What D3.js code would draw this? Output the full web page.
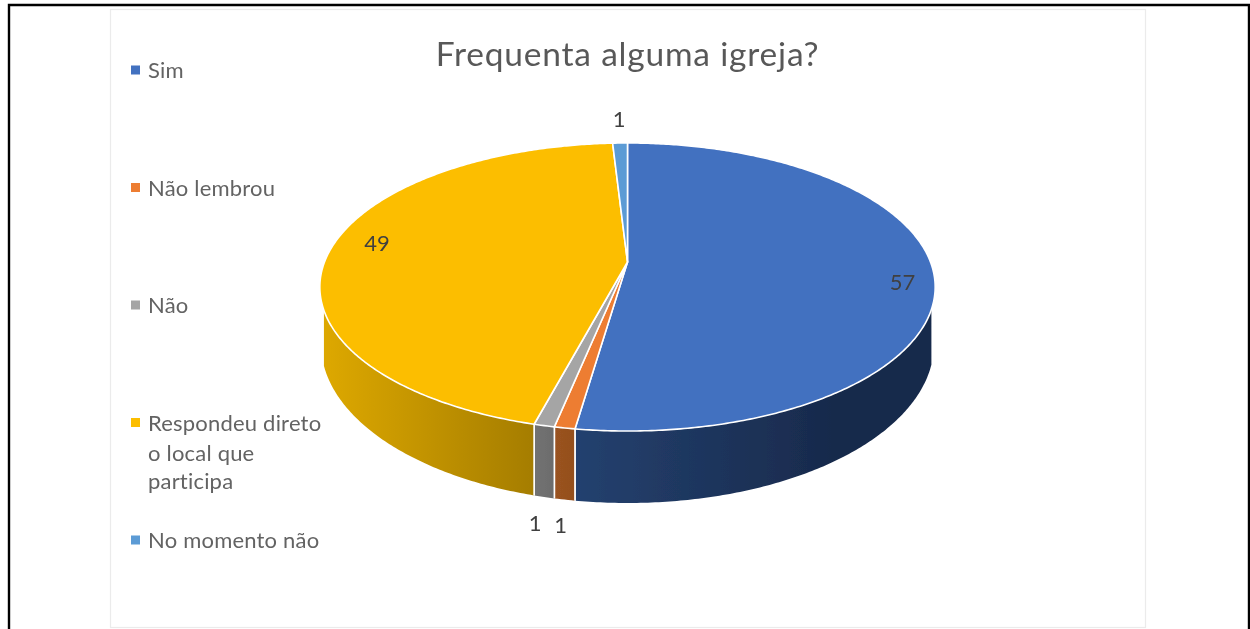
<!DOCTYPE html>
<html><head><meta charset="utf-8">
<script src="https://cdn.jsdelivr.net/npm/d3@7/dist/d3.min.js"></script>
<style>html,body{margin:0;padding:0;background:#fff;overflow:hidden}svg{display:block}text{font-family:Lato,"Noto Sans",sans-serif}</style>
</head><body><svg id="c" width="1250" height="629"></svg>
<script>
const title = "Frequenta alguma igreja?";
const categories = ["Sim","Não lembrou","Não","Respondeu direto o local que participa","No momento não"];
const legendLines = [["Sim"],["Não lembrou"],["Não"],["Respondeu direto","o local que","participa"],["No momento não"]];
const values = [57,1,1,49,1];
const topColors = ["#4371C0","#ED7D31","#A5A5A5","#FCBE00","#5B9BD5"];
const wallFrom = ["#24416F","#9A5220","#727272","#DDA800","#2A4A7E"];
const wallTo = ["#182A4C","#94501E","#6C6C6C","#A57D00","#2A4A7E"];

const svg = d3.select("#c");
const defs = svg.append("defs");
defs.append("filter").attr("id","soft").attr("x","-5%").attr("y","-5%").attr("width","110%").attr("height","110%")
  .append("feGaussianBlur").attr("stdDeviation",0.5);
const root = svg.append("g").attr("filter","url(#soft)");

// frame and card
root.append("rect").attr("x",110.5).attr("y",9.5).attr("width",1035).attr("height",618).attr("fill","#fff").attr("stroke","#ebebeb").attr("stroke-width",1.2);
root.append("path").attr("d","M9 640V5H1249V640").attr("fill","none").attr("stroke","#000").attr("stroke-width",2.4);

// perspective disc
const cx=627.5, k=-0.1736, a=94.2, b=262, c=303;
const proj=(t,r=1)=>{const u=r*Math.sin(t),v=-r*Math.cos(t),w=1+k*v;return [cx+c*u/w,(a*v+b)/w];};
const rimX=306.5, rimCy=344, rimRy=159, wallTop=309;
const rimBottom=p=>{const dx=Math.max(-rimX,Math.min(rimX,p[0]-cx));return [cx+dx,rimCy+rimRy*Math.sqrt(1-(dx/rimX)**2)];};

const arcs=d3.pie().value(d=>d).sort(null)(values);
const samples=(s,e)=>{const n=Math.max(2,Math.ceil((e-s)/0.01));return d3.range(n+1).map(i=>s+(e-s)*i/n);};
const line=d3.line();

// side walls
const walls=root.append("g");
arcs.forEach((d,i)=>{
  const top=samples(d.startAngle,d.endAngle).map(t=>proj(t)).filter(p=>p[1]>=wallTop);
  if(top.length<2) return;
  const bottom=top.map(rimBottom).reverse();
  const x0=d3.min(top,p=>p[0]),x1=d3.max(top,p=>p[0]);
  const id="w"+i;
  const g=defs.append("linearGradient").attr("id",id).attr("gradientUnits","userSpaceOnUse").attr("x1",x0).attr("x2",x1).attr("y1",0).attr("y2",0);
  g.append("stop").attr("offset",0).attr("stop-color",wallFrom[i]);
  g.append("stop").attr("offset",i===0?0.72:1).attr("stop-color",wallTo[i]);
  walls.append("path").attr("d",line(top.concat(bottom))+"Z").attr("fill",`url(#${id})`);
  // white seams between front walls
  [top[0],top[top.length-1]].forEach(p=>{
    if(p[1]<400) return;
    const q=rimBottom(p);
    walls.append("line").attr("x1",p[0]).attr("y1",p[1]).attr("x2",q[0]).attr("y2",q[1]).attr("stroke","#fff").attr("stroke-width",1.6);
  });
});

// top faces
const apex=proj(0,0);
root.append("g").selectAll("path").data(arcs).join("path")
  .attr("d",d=>line([apex,...samples(d.startAngle,d.endAngle).map(t=>proj(t))])+"Z")
  .attr("fill",(d,i)=>topColors[i]).attr("stroke","#fff").attr("stroke-width",1.6).attr("stroke-linejoin","round");

// data labels, placed relative to each slice's mid-angle
const placement=[{r:.9,dx:0,dy:10},{r:1,dx:-4,dy:97},{r:1,dx:-9,dy:97},{r:.85,dx:2,dy:-8},{r:1,dx:-1,dy:-25}];
root.append("g").selectAll("text").data(arcs).join("text")
  .attr("x",(d,i)=>proj((d.startAngle+d.endAngle)/2,placement[i].r)[0]+placement[i].dx)
  .attr("y",(d,i)=>proj((d.startAngle+d.endAngle)/2,placement[i].r)[1]+placement[i].dy)
  .attr("text-anchor","middle").attr("dominant-baseline","central")
  .attr("font-size",22).attr("fill","#404040").text(d=>d.data);

// title
root.append("text").attr("x",627.5).attr("y",66).attr("text-anchor","middle")
  .attr("font-size",33.5).attr("letter-spacing",0.8).attr("fill","#595959").text(title);

// legend
const legendY=d3.scalePoint().domain(categories).range([70,540]);
const lg=root.append("g").selectAll("g").data(categories).join("g").attr("transform",d=>`translate(131,${legendY(d)})`);
lg.append("rect").attr("y",-4.5).attr("width",9).attr("height",9).attr("fill",(d,i)=>topColors[i]);
lg.each(function(d,i){
  const t=d3.select(this).append("text").attr("fill","#636363").attr("font-size",22).attr("letter-spacing",0.2);
  legendLines[i].forEach((s,j)=>t.append("tspan").attr("x",17).attr("y",8+[0,30,58][j]).text(s));
});
</script></body></html>
